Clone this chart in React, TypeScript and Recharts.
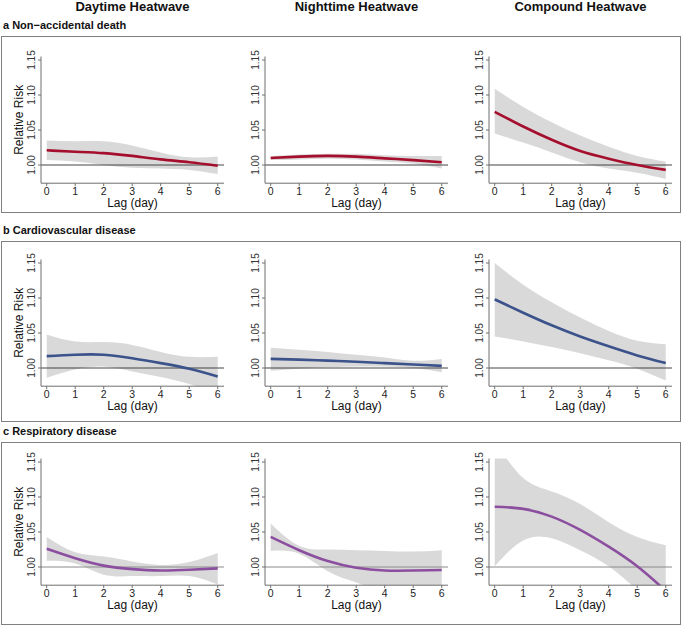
import React from 'react';
import { ComposedChart, Area, Line, XAxis, YAxis, ReferenceLine } from 'recharts';

// lag days on the x axis
const LAGS = [0, 1, 2, 3, 4, 5, 6];
const RR_TICKS = [1.0, 1.05, 1.1, 1.15];

const COLUMN_TITLES = ['Daytime Heatwave', 'Nighttime Heatwave', 'Compound Heatwave'];
const ROW_TITLES = ['a Non\u2212accidental death', 'b Cardiovascular disease', 'c Respiratory disease'];

// a: non-accidental death
const A_DAY_EST = [1.021, 1.019, 1.017, 1.013, 1.008, 1.004, 0.999];
const A_DAY_HI = [1.035, 1.034, 1.034, 1.028, 1.018, 1.011, 1.012];
const A_DAY_LO = [1.007, 1.005, 1.0, 0.996, 0.995, 0.993, 0.987];

const A_NIGHT_EST = [1.01, 1.012, 1.013, 1.012, 1.0095, 1.007, 1.004];
const A_NIGHT_HI = [1.013, 1.015, 1.016, 1.016, 1.014, 1.013, 1.013];
const A_NIGHT_LO = [1.007, 1.008, 1.009, 1.008, 1.005, 1.002, 0.995];

const A_COMP_EST = [1.076, 1.055, 1.036, 1.02, 1.009, 1.0, 0.993];
const A_COMP_HI = [1.109, 1.083, 1.061, 1.042, 1.026, 1.013, 1.005];
const A_COMP_LO = [1.045, 1.032, 1.018, 1.004, 0.995, 0.989, 0.98];

// b: cardiovascular disease
const B_DAY_EST = [1.017, 1.019, 1.019, 1.014, 1.007, 0.999, 0.988];
const B_DAY_HI = [1.048, 1.038, 1.037, 1.033, 1.023, 1.016, 1.016];
const B_DAY_LO = [0.986, 0.998, 1.002, 0.995, 0.987, 0.977, 0.963];

const B_NIGHT_EST = [1.013, 1.012, 1.0105, 1.009, 1.007, 1.005, 1.003];
const B_NIGHT_HI = [1.029, 1.026, 1.023, 1.019, 1.015, 1.0105, 1.013];
const B_NIGHT_LO = [0.996, 0.999, 1.001, 1.002, 1.002, 1.0, 0.994];

const B_COMP_EST = [1.098, 1.079, 1.061, 1.045, 1.031, 1.018, 1.007];
const B_COMP_HI = [1.15, 1.119, 1.094, 1.072, 1.053, 1.039, 1.034];
const B_COMP_LO = [1.045, 1.038, 1.03, 1.021, 1.011, 0.999, 0.982];

// c: respiratory disease
const C_DAY_EST = [1.026, 1.0125, 1.002, 0.997, 0.995, 0.996, 0.998];
const C_DAY_HI = [1.043, 1.021, 1.015, 1.008, 1.003, 1.007, 1.02];
const C_DAY_LO = [1.009, 1.005, 0.989, 0.987, 0.987, 0.987, 0.975];

const C_NIGHT_EST = [1.043, 1.024, 1.0085, 0.999, 0.995, 0.995, 0.9957];
const C_NIGHT_HI = [1.062, 1.03, 1.025, 1.024, 1.023, 1.022, 1.024];
const C_NIGHT_LO = [1.023, 1.019, 0.994, 0.978, 0.964, 0.958, 0.956];

const C_COMP_EST = [1.086, 1.083, 1.072, 1.053, 1.029, 1.001, 0.966];
const C_COMP_HI = [1.18, 1.127, 1.108, 1.09, 1.064, 1.043, 1.031];
const C_COMP_LO = [1.001, 1.038, 1.041, 1.024, 1.001, 0.968, 0.94];

const FONT = '"Liberation Sans", Arial, Helvetica, sans-serif';
const BAND = '#d9d9d9';
const AXIS = '#6e6e6e';

const build = (est: number[], lo: number[], hi: number[]) =>
  LAGS.map((lag, i) => ({ lag, est: est[i], ci: [lo[i], hi[i]] }));

const rows = [
  {
    title: ROW_TITLES[0], color: '#a50f2d', refColor: '#444',
    boxTop: 36, boxBottom: 213, plotTop: 56.5, plotBottom: 183.2,
    panels: [
      build(A_DAY_EST, A_DAY_LO, A_DAY_HI),
      build(A_NIGHT_EST, A_NIGHT_LO, A_NIGHT_HI),
      build(A_COMP_EST, A_COMP_LO, A_COMP_HI),
    ],
  },
  {
    title: ROW_TITLES[1], color: '#3b528b', refColor: '#444',
    boxTop: 241, boxBottom: 422, plotTop: 259.5, plotBottom: 386.2,
    panels: [
      build(B_DAY_EST, B_DAY_LO, B_DAY_HI),
      build(B_NIGHT_EST, B_NIGHT_LO, B_NIGHT_HI),
      build(B_COMP_EST, B_COMP_LO, B_COMP_HI),
    ],
  },
  {
    title: ROW_TITLES[2], color: '#8c4f9f', refColor: '#8a8a8a',
    boxTop: 442, boxBottom: 625, plotTop: 458.5, plotBottom: 585.2,
    panels: [
      build(C_DAY_EST, C_DAY_LO, C_DAY_HI),
      build(C_NIGHT_EST, C_NIGHT_LO, C_NIGHT_HI),
      build(C_COMP_EST, C_COMP_LO, C_COMP_HI),
    ],
  },
];

const PLOT_LEFTS = [41, 265, 489];
const Y_AXIS_W = 41;
const PLOT_W = 183;

const RotTick = (props: any) => {
  const { x, y, payload } = props;
  return (
    <text x={x} y={y} transform={`rotate(-90 ${x} ${y})`} textAnchor="middle"
      fontSize={10} fill="#333" fontFamily={FONT}>
      {Number(payload.value).toFixed(2)}
    </text>
  );
};

const LagLabel = (props: any) => {
  const vb = props.viewBox || {};
  return (
    <text x={vb.x + vb.width / 2} y={vb.y + 24} textAnchor="middle"
      fontSize={12} fill="#111" fontFamily={FONT}>
      Lag (day)
    </text>
  );
};

const RiskLabel = (props: any) => {
  const vb = props.viewBox || {};
  const x = vb.x + vb.width - 17.7;
  const y = vb.y + vb.height / 2;
  return (
    <text x={x} y={y} transform={`rotate(-90 ${x} ${y})`} textAnchor="middle"
      fontSize={12} fill="#111" fontFamily={FONT}>
      Relative Risk
    </text>
  );
};

interface PanelProps {
  data: { lag: number; est: number; ci: number[] }[];
  color: string;
  refColor: string;
  left: number;
  top: number;
  height: number;
  marginTop: number;
  xAxisHeight: number;
  showYLabel: boolean;
}

const Panel: React.FC<PanelProps> = ({ data, color, refColor, left, top, height, marginTop, xAxisHeight, showYLabel }) => (
  <div style={{ position: 'absolute', left, top }}>
    <ComposedChart width={Y_AXIS_W + PLOT_W + 2} height={height} data={data}
      margin={{ top: marginTop, right: 2, bottom: 0, left: 0 }}>
      <XAxis dataKey="lag" type="number" domain={[-0.2, 6.22]} ticks={LAGS} interval={0}
        allowDataOverflow height={xAxisHeight} tickSize={3} tickMargin={1.5}
        stroke={AXIS} tick={{ fontSize: 10.5, fill: '#222', fontFamily: FONT }}
        label={{ content: LagLabel }} />
      <YAxis type="number" domain={[0.974, 1.155]} ticks={RR_TICKS} interval={0}
        allowDataOverflow width={Y_AXIS_W} tickSize={3} tickMargin={3.4}
        stroke={AXIS} tick={<RotTick />}
        label={showYLabel ? { content: RiskLabel } : undefined} />
      <Area dataKey="ci" type="natural" stroke="none" fill={BAND} fillOpacity={1}
        dot={false} activeDot={false} isAnimationActive={false} />
      <ReferenceLine y={1} stroke={refColor} strokeWidth={1} />
      <Line dataKey="est" type="natural" stroke={color} strokeWidth={2.6}
        dot={false} activeDot={false} isAnimationActive={false} />
    </ComposedChart>
  </div>
);

export default function App() {
  return (
    <div style={{ position: 'absolute', left: 0, top: 0, width: 685, height: 627, background: '#fff', fontFamily: FONT, overflow: 'hidden' }}>
      {COLUMN_TITLES.map((t, i) => (
        <div key={t} style={{
          position: 'absolute', top: 0, left: PLOT_LEFTS[i] + PLOT_W / 2 - 110, width: 220,
          textAlign: 'center', fontSize: 13, fontWeight: 'bold', lineHeight: '13px', color: '#111',
        }}>{t}</div>
      ))}
      {rows.map((r) => (
        <React.Fragment key={r.title}>
          <div style={{
            position: 'absolute', left: 3, top: r.boxTop - 16.3, fontSize: 11, fontWeight: 'bold',
            lineHeight: '11px', color: '#111', whiteSpace: 'nowrap',
          }}>{r.title}</div>
          <div style={{
            position: 'absolute', left: 1, top: r.boxTop, width: 680, height: r.boxBottom - r.boxTop,
            border: '1px solid #808080', boxSizing: 'border-box',
          }} />
          {r.panels.map((d, i) => (
            <Panel key={i} data={d} color={r.color} refColor={r.refColor}
              left={PLOT_LEFTS[i] - Y_AXIS_W} top={r.boxTop} height={r.boxBottom - r.boxTop}
              marginTop={r.plotTop - r.boxTop} xAxisHeight={r.boxBottom - r.plotBottom}
              showYLabel={i === 0} />
          ))}
        </React.Fragment>
      ))}
    </div>
  );
}
